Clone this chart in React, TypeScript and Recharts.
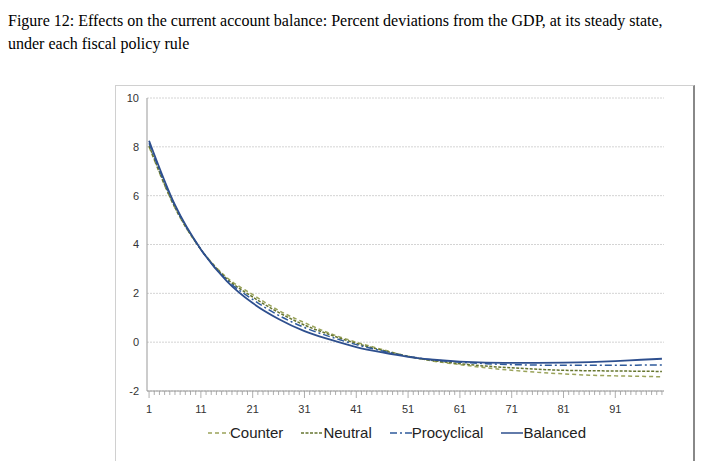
import React from "react"
import { LineChart, Line, XAxis, YAxis, CartesianGrid } from "recharts"

const periods = [1, 6, 11, 16, 21, 26, 31, 36, 41, 46, 51, 56, 61, 66, 71, 76, 81, 86, 91, 96, 100]
const counter = [8.0, 5.5, 3.8, 2.65, 1.95, 1.3, 0.8, 0.35, 0.0, -0.3, -0.58, -0.78, -0.92, -1.05, -1.15, -1.23, -1.3, -1.35, -1.38, -1.4, -1.42]
const neutral = [8.05, 5.52, 3.8, 2.6, 1.85, 1.22, 0.7, 0.3, -0.05, -0.33, -0.58, -0.76, -0.88, -0.98, -1.05, -1.11, -1.15, -1.17, -1.18, -1.19, -1.2]
const procyclical = [8.15, 5.58, 3.8, 2.55, 1.75, 1.1, 0.6, 0.22, -0.1, -0.36, -0.58, -0.73, -0.82, -0.88, -0.92, -0.94, -0.95, -0.95, -0.95, -0.94, -0.93]
const balanced = [8.25, 5.62, 3.8, 2.5, 1.6, 0.95, 0.45, 0.1, -0.2, -0.42, -0.6, -0.72, -0.8, -0.84, -0.85, -0.85, -0.84, -0.82, -0.78, -0.72, -0.68]
const yTicks = [-2, 0, 2, 4, 6, 8, 10]
const xTicks = Array.from({ length: 100 }, (_, i) => i + 1)

const data = periods.map((p, i) => ({
  p,
  counter: counter[i],
  neutral: neutral[i],
  procyclical: procyclical[i],
  balanced: balanced[i],
}))

const series = [
  { key: "counter", name: "Counter", color: "#9aa35a", dash: "4 3", width: 1.5 },
  { key: "neutral", name: "Neutral", color: "#667530", dash: "3 1.5", width: 1.5 },
  { key: "procyclical", name: "Procyclical", color: "#2f5b9c", dash: "7 3 2 3", width: 1.5 },
  { key: "balanced", name: "Balanced", color: "#2e4f8e", dash: undefined, width: 1.8 },
]

const XTick = ({ x, y, payload }: any) => {
  const v = payload.value
  const major = (v - 1) % 10 === 0
  return (
    <g>
      <line x1={x} x2={x} y1={y - 8} y2={y - (major ? 1 : 4)} stroke="#999" strokeWidth={0.8} />
      {major && (
        <text x={x} y={y + 14} textAnchor="middle" fontSize={11} fill="#333" fontFamily="Liberation Sans, Arial">
          {v}
        </text>
      )}
    </g>
  )
}

const Legend = () => (
  <div style={{ position: "absolute", top: 423, left: 207, display: "flex", gap: 18, fontFamily: "Liberation Sans, Arial", fontSize: 15, color: "#222" }}>
    {series.map((s) => (
      <div key={s.key} style={{ display: "flex", alignItems: "center" }}>
        <svg width={22} height={10}>
          <line x1={0} x2={22} y1={5} y2={5} stroke={s.color} strokeWidth={1.5} strokeDasharray={s.dash} />
        </svg>
        <span>{s.name}</span>
      </div>
    ))}
  </div>
)

export default function App() {
  return (
    <div style={{ position: "absolute", left: 0, top: 0, width: 714, height: 475, background: "#fff" }}>
      <div style={{ position: "absolute", left: 8, top: 9, width: 665, fontFamily: "Liberation Serif, Times New Roman, serif", fontSize: 16, lineHeight: "23px", color: "#000" }}>
        Figure 12: Effects on the current account balance: Percent deviations from the GDP, at its steady state, under each fiscal policy rule
      </div>
      <div style={{ position: "absolute", left: 115, top: 85, width: 577, height: 375, borderLeft: "1px solid #d0d0d0", borderTop: "1px solid #d0d0d0", borderRight: "2px solid #888" }}>
        <LineChart width={577} height={368} data={data} margin={{ top: 12, right: 29, left: 0, bottom: 0 }}>
          <CartesianGrid horizontal vertical={false} stroke="#d4d4d4" strokeDasharray="2 1" />
          <XAxis
            dataKey="p"
            type="number"
            domain={[0.6, 100.4]}
            ticks={xTicks}
            interval={0}
            tick={<XTick />}
            tickLine={false}
            axisLine={{ stroke: "#999" }}
            height={63}
          />
          <YAxis
            type="number"
            domain={[-2, 10]}
            ticks={yTicks}
            tick={{ fontSize: 11, fill: "#333", fontFamily: "Liberation Sans, Arial" }}
            tickLine={false}
            axisLine={{ stroke: "#999" }}
            width={31}
          />
          {series.map((s) => (
            <Line
              key={s.key}
              dataKey={s.key}
              type="monotone"
              stroke={s.color}
              strokeWidth={s.width}
              strokeDasharray={s.dash}
              dot={false}
              isAnimationActive={false}
            />
          ))}
        </LineChart>
        <div style={{ position: "absolute", left: -115, top: -85 }}>
          <Legend />
        </div>
      </div>
    </div>
  )
}
